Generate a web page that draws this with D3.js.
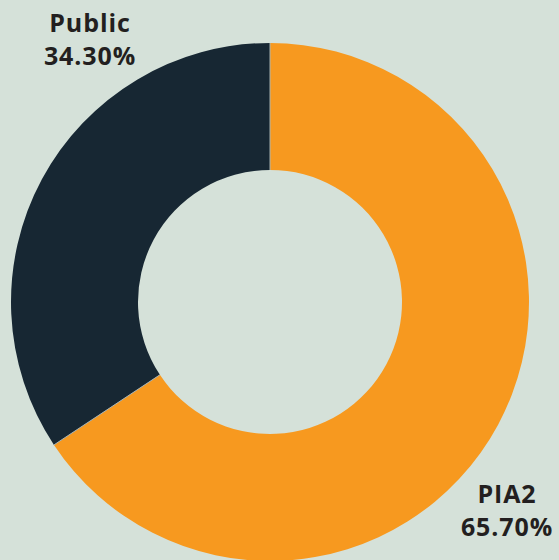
<!DOCTYPE html>
<html><head><meta charset="utf-8">
<script src="https://cdn.jsdelivr.net/npm/d3@7"></script>
<style>html,body{margin:0;padding:0;background:#d5e1d9;}svg{display:block;}</style>
</head><body>
<script>
const categories = ["PIA2", "Public"];
const values = [65.70, 34.30];
const colors = ["#f7991f", "#172733"];

const W = 559, H = 560;
const cx = 270, cy = 302, rOuter = 259, rInner = 132;
const svg = d3.select("body").append("svg").attr("width", W).attr("height", H);
svg.append("rect").attr("width", W).attr("height", H).attr("fill", "#d5e1d9");

const pie = d3.pie().sort(null).value(d => d.v);
const arc = d3.arc().innerRadius(rInner).outerRadius(rOuter);
const data = categories.map((c, i) => ({c, v: values[i], col: colors[i]}));
const arcs = pie(data);
const g = svg.append("g").attr("transform", `translate(${cx},${cy})`);
g.selectAll("path").data(arcs).join("path")
  .attr("d", arc).attr("fill", d => d.data.col);
g.selectAll("line.sep").data(arcs).join("line").attr("class", "sep")
  .attr("x1", d => rInner * Math.sin(d.startAngle)).attr("y1", d => -rInner * Math.cos(d.startAngle))
  .attr("x2", d => rOuter * Math.sin(d.startAngle)).attr("y2", d => -rOuter * Math.cos(d.startAngle))
  .attr("stroke", "#a9b3b0").attr("stroke-width", 1);

const labelPos = {"Public": [90, 32], "PIA2": [507, 503]};
const fmt = d3.format(".2f");
data.forEach(d => {
  const [x, y] = labelPos[d.c];
  const t = svg.append("text").attr("x", x).attr("y", y).attr("text-anchor", "middle")
    .attr("font-family", "'Open Sans', sans-serif").attr("font-weight", 700)
    .attr("font-size", 25).attr("letter-spacing", 0.9).attr("fill", "#231f20");
  t.append("tspan").attr("x", x).text(d.c);
  t.append("tspan").attr("x", x).attr("dy", 33).text(fmt(d.v) + "%");
});
</script>
</body></html>
